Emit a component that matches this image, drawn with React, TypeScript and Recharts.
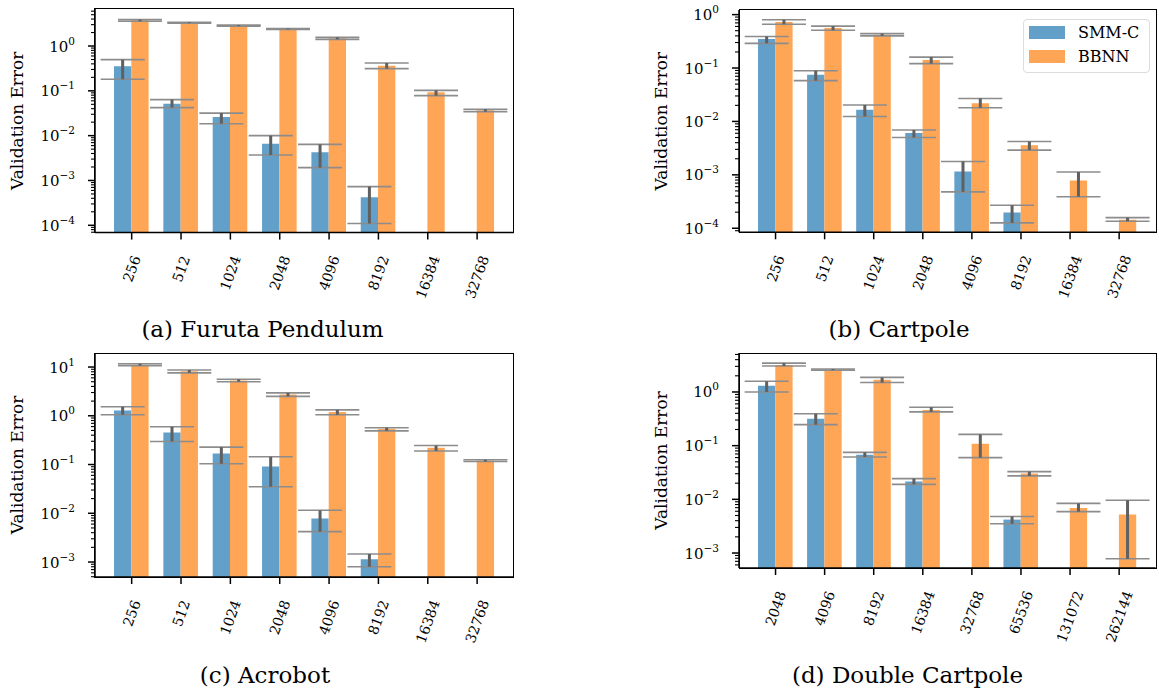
import { BarChart, Bar, XAxis, YAxis, ErrorBar, Legend } from 'recharts';

// ---- data ----
const SMALL_SIZES = ['256', '512', '1024', '2048', '4096', '8192', '16384', '32768'];
const DC_SIZES = ['2048', '4096', '8192', '16384', '32768', '65536', '131072', '262144'];

const furutaSmm = [0.352, 0.0518, 0.026, 0.00663, 0.00424, 0.00042, null, null];
const furutaSmmLo = [0.181, 0.0422, 0.0185, 0.00369, 0.00193, 0.00011, null, null];
const furutaSmmHi = [0.497, 0.0637, 0.0319, 0.01, 0.0064, 0.00073, null, null];
const furutaBbnn = [3.75, 3.3, 2.85, 2.4, 1.49, 0.365, 0.0926, 0.0367];
const furutaBbnnLo = [3.56, 3.25, 2.78, 2.35, 1.41, 0.313, 0.078, 0.0343];
const furutaBbnnHi = [3.88, 3.4, 2.92, 2.45, 1.56, 0.418, 0.1026, 0.0389];

const cartSmm = [0.35, 0.075, 0.0165, 0.0061, 0.00115, 0.000197, null, null];
const cartSmmLo = [0.29, 0.058, 0.0124, 0.005, 0.00048, 0.000126, null, null];
const cartSmmHi = [0.39, 0.089, 0.0203, 0.0069, 0.00178, 0.00027, null, null];
const cartBbnn = [0.73, 0.56, 0.42, 0.142, 0.022, 0.0036, 0.00078, 0.000145];
const cartBbnnLo = [0.66, 0.51, 0.4, 0.121, 0.018, 0.0029, 0.00039, 0.000135];
const cartBbnnHi = [0.8, 0.61, 0.44, 0.16, 0.0269, 0.0042, 0.00113, 0.000158];

const acroSmm = [1.28, 0.455, 0.169, 0.091, 0.00786, 0.00114, null, null];
const acroSmmLo = [1.05, 0.297, 0.104, 0.035, 0.0042, 0.0008, null, null];
const acroSmmHi = [1.53, 0.595, 0.227, 0.144, 0.0115, 0.00146, null, null];
const acroBbnn = [11.2, 8.2, 5.3, 2.73, 1.2, 0.54, 0.22, 0.121];
const acroBbnnLo = [10.7, 7.6, 5.0, 2.5, 1.05, 0.49, 0.19, 0.115];
const acroBbnnHi = [11.7, 8.7, 5.6, 2.95, 1.32, 0.57, 0.245, 0.125];

const dcSmm = [1.31, 0.318, 0.068, 0.0214, null, 0.0042, null, null];
const dcSmmLo = [1.0, 0.246, 0.0616, 0.019, null, 0.0035, null, null];
const dcSmmHi = [1.58, 0.394, 0.075, 0.0243, null, 0.0048, null, null];
const dcBbnn = [3.18, 2.6, 1.69, 0.46, 0.109, 0.0302, 0.0069, 0.0052];
const dcBbnnLo = [3.05, 2.55, 1.5, 0.425, 0.0598, 0.0273, 0.0059, 0.00078];
const dcBbnnHi = [3.45, 2.68, 1.87, 0.52, 0.162, 0.0328, 0.0084, 0.0096];

const SERIES_ORDER = ['smm', 'bbnn'];

const BLUE = '#62a0ca';
const ORANGE = '#ffa556';
const FONT = '"DejaVu Serif", serif';

type Num = number | null;

function buildRows(sizes: string[], smm: Num[], smmLo: Num[], smmHi: Num[], bb: Num[], bbLo: Num[], bbHi: Num[]) {
  return sizes.map((size, i) => ({
    size,
    smm: smm[i],
    bbnn: bb[i],
    smmErr: smm[i] != null ? [smm[i]! - smmLo[i]!, smmHi[i]! - smm[i]!] : undefined,
    bbnnErr: bb[i] != null ? [bb[i]! - bbLo[i]!, bbHi[i]! - bb[i]!] : undefined,
  }));
}

const panels = [
  {
    id: 'a',
    rows: buildRows(SMALL_SIZES, furutaSmm, furutaSmmLo, furutaSmmHi, furutaBbnn, furutaBbnnLo, furutaBbnnHi),
    box: { L: 94.7, R: 513.5, T: 8.7, B: 232.3 },
    domain: [6.87e-5, 6.7],
    caption: '(a) Furuta Pendulum',
    cap: [262.5, 336.7],
    legend: false,
  },
  {
    id: 'b',
    rows: buildRows(SMALL_SIZES, cartSmm, cartSmmLo, cartSmmHi, cartBbnn, cartBbnnLo, cartBbnnHi),
    box: { L: 739.3, R: 1156, T: 10, B: 232.3 },
    domain: [8.4e-5, 1.22],
    caption: '(b) Cartpole',
    cap: [899, 336.7],
    legend: true,
  },
  {
    id: 'c',
    rows: buildRows(SMALL_SIZES, acroSmm, acroSmmLo, acroSmmHi, acroBbnn, acroBbnnLo, acroBbnnHi),
    box: { L: 94.7, R: 513.5, T: 353.3, B: 577.3 },
    domain: [4.93e-4, 19.4],
    caption: '(c) Acrobot',
    cap: [265, 683.3],
    legend: false,
  },
  {
    id: 'd',
    rows: buildRows(DC_SIZES, dcSmm, dcSmmLo, dcSmmHi, dcBbnn, dcBbnnLo, dcBbnnHi),
    box: { L: 739.3, R: 1156, T: 353.3, B: 568.3 },
    domain: [5.26e-4, 5.32],
    caption: '(d) Double Cartpole',
    cap: [907.5, 683.3],
    legend: false,
  },
];

function logTicks(lo: number, hi: number) {
  const out: number[] = [];
  for (let k = Math.floor(Math.log10(lo)); k <= Math.ceil(Math.log10(hi)); k++) {
    for (let m = 1; m <= 9; m++) {
      const v = Number((m * Math.pow(10, k)).toPrecision(6));
      if (v >= lo && v <= hi) out.push(v);
    }
  }
  return out;
}

const XTick = (props: any) => {
  const { x, y, payload } = props;
  const label = String(payload.value);
  const fs = 14;
  const w = label.length * 0.62 * fs;
  const cy = y + 24 + w * 0.47;
  return (
    <g>
      <line x1={x} y1={y} x2={x} y2={y + 7} stroke="#000" strokeWidth={1.5} />
      <text
        x={x}
        y={cy}
        textAnchor="middle"
        dominantBaseline="central"
        transform={`rotate(-70 ${x} ${cy})`}
        fontSize={fs}
        fontFamily={FONT}
        fill="#000"
      >
        {label}
      </text>
    </g>
  );
};

const YTick = (props: any) => {
  const { x, y, payload } = props;
  const lg = Math.log10(payload.value);
  const e = Math.round(lg);
  if (Math.abs(lg - e) > 1e-6) {
    return <line x1={x - 4} y1={y} x2={x} y2={y} stroke="#000" strokeWidth={1.1} />;
  }
  return (
    <g>
      <line x1={x - 7} y1={y} x2={x} y2={y} stroke="#000" strokeWidth={1.5} />
      <text x={x - 20} y={y + 5.5} textAnchor="end" fontSize={15} fontFamily={FONT} fill="#000">
        10
        <tspan dy={-7} fontSize={10.5}>
          {e < 0 ? '\u2212' + -e : String(e)}
        </tspan>
      </text>
    </g>
  );
};

const LegendBox = (props: any) => {
  const items = [...(props.payload || [])].sort(
    (a: any, b: any) => SERIES_ORDER.indexOf(a.dataKey) - SERIES_ORDER.indexOf(b.dataKey),
  );
  return (
    <div
      style={{
        position: 'relative',
        width: 125,
        height: 52,
        border: '1px solid #dcdcdc',
        borderRadius: 4,
        background: 'rgba(255,255,255,0.8)',
        fontFamily: FONT,
        fontSize: 16,
      }}
    >
      {items.map((it: any, i: number) => (
        <div key={it.value} style={{ position: 'absolute', left: 5.3, top: 6 + i * 24, display: 'flex', alignItems: 'center' }}>
          <div style={{ width: 36, height: 12.7, background: it.color }} />
          <span style={{ marginLeft: 13, lineHeight: '13px' }}>{it.value}</span>
        </div>
      ))}
    </div>
  );
};

const PAD_TOP = 10;
const Y_W = 90;
const PAD_RIGHT = 10;
const X_H = 85;

function Panel({ p }: { p: (typeof panels)[number] }) {
  const pw = p.box.R - p.box.L;
  const ph = p.box.B - p.box.T;
  const ticks = logTicks(p.domain[0], p.domain[1]);
  const axisLine = { stroke: '#000', strokeWidth: 1.5 };
  return (
    <>
      <div style={{ position: 'absolute', left: p.box.L - Y_W, top: p.box.T - PAD_TOP }}>
        <BarChart
          width={Y_W + pw + PAD_RIGHT}
          height={PAD_TOP + ph + X_H}
          data={p.rows}
          margin={{ top: PAD_TOP, right: PAD_RIGHT, bottom: 0, left: 0 }}
          barGap={0}
          barSize={17.3}
        >
          <XAxis
            dataKey="size"
            height={X_H}
            padding={{ left: 12, right: 12 }}
            interval={0}
            tickLine={false}
            tickSize={0}
            tickMargin={0}
            axisLine={axisLine}
            tick={<XTick />}
          />
          <YAxis
            type="number"
            scale="log"
            domain={p.domain}
            allowDataOverflow
            ticks={ticks}
            interval={0}
            width={Y_W}
            tickLine={false}
            tickSize={0}
            tickMargin={0}
            axisLine={axisLine}
            tick={<YTick />}
            label={{
              value: 'Validation Error',
              angle: -90,
              position: 'insideLeft',
              offset: 12,
              style: { textAnchor: 'middle', fontSize: 17, fontFamily: FONT, fill: '#000' },
            }}
          />
          <Bar dataKey="smm" name="SMM-C" fill={BLUE} isAnimationActive={false}>
            <ErrorBar dataKey="smmErr" width={22} stroke="#8c8c8c" strokeWidth={1.6} isAnimationActive={false} />
            <ErrorBar dataKey="smmErr" width={0} stroke="#606060" strokeWidth={3} isAnimationActive={false} />
          </Bar>
          <Bar dataKey="bbnn" name="BBNN" fill={ORANGE} isAnimationActive={false}>
            <ErrorBar dataKey="bbnnErr" width={22} stroke="#8c8c8c" strokeWidth={1.6} isAnimationActive={false} />
            <ErrorBar dataKey="bbnnErr" width={0} stroke="#606060" strokeWidth={3} isAnimationActive={false} />
          </Bar>
          {p.legend && (
            <Legend
              layout="vertical"
              align="center"
              verticalAlign="middle"
              wrapperStyle={{ left: 1022.7 - (p.box.L - Y_W), top: 19 - (p.box.T - PAD_TOP), width: 'auto', height: 'auto' }}
              content={<LegendBox />}
            />
          )}
        </BarChart>
      </div>
      {/* axes frame (top and right spines) */}
      <div
        style={{
          position: 'absolute',
          left: p.box.L - 0.75,
          top: p.box.T - 0.75,
          width: pw + 1.5,
          height: ph + 1.5,
          boxSizing: 'border-box',
          border: '1.5px solid #000',
          pointerEvents: 'none',
        }}
      />
    </>
  );
}

export default function App() {
  return (
    <div style={{ position: 'absolute', left: 0, top: 0, width: 1159, height: 692, background: '#fff', fontFamily: FONT }}>
      {panels.map((p) => (
        <Panel key={p.id} p={p} />
      ))}
      <svg width={1159} height={692} style={{ position: 'absolute', left: 0, top: 0, pointerEvents: 'none' }}>
        {panels.map((p) => (
          <text key={p.id} x={p.cap[0]} y={p.cap[1]} textAnchor="middle" fontSize={23} fontFamily={FONT} fill="#000">
            {p.caption}
          </text>
        ))}
      </svg>
    </div>
  );
}
